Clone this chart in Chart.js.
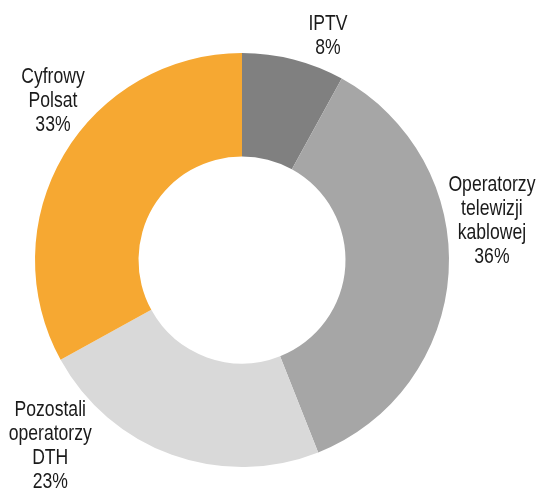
<!DOCTYPE html>
<html>
<head>
<meta charset="utf-8">
<script src="https://cdn.jsdelivr.net/npm/chart.js@4/dist/chart.umd.min.js"></script>
<style>
html,body{margin:0;padding:0;background:#fff;}
#wrap{width:540px;height:490px;position:relative;}
</style>
</head>
<body>
<div id="wrap"><canvas id="c" width="540" height="490"></canvas></div>
<script>
const categories = [["IPTV"], ["Operatorzy", "telewizji", "kablowej"], ["Pozostali", "operatorzy", "DTH"], ["Cyfrowy", "Polsat"]];
const shares = [8, 36, 23, 33];
const colors = ["#808080", "#a6a6a6", "#d9d9d9", "#f6a832"];
// label placement: radius factor relative to outer radius, angle offset (deg) from slice middle
const labelRadius = [1.159, 1.222, 1.29, 1.195];
const labelAngleOffset = [6.6, -12.47, 26.1, 9.56];

const labelPlugin = {
  id: 'outsideLabels',
  afterDatasetsDraw(chart) {
    const ctx = chart.ctx;
    const meta = chart.getDatasetMeta(0);
    const sx = 0.8; // condensed look (Arial Narrow-like)
    const lh = 24;
    meta.data.forEach((arc, i) => {
      const p = arc.getProps(['x', 'y', 'startAngle', 'endAngle', 'outerRadius'], true);
      const mid = (p.startAngle + p.endAngle) / 2 + labelAngleOffset[i] * Math.PI / 180;
      const r = p.outerRadius * labelRadius[i];
      const lx = p.x + r * Math.cos(mid);
      const ly = p.y + r * Math.sin(mid);
      const lines = categories[i].concat([shares[i] + '%']);
      const y0 = ly - (lines.length - 1) * lh / 2;
      ctx.save();
      ctx.font = '22px "Liberation Sans", Arial, sans-serif';
      ctx.fillStyle = '#1a1a1a';
      ctx.textAlign = 'center';
      ctx.textBaseline = 'middle';
      ctx.translate(lx, 0);
      ctx.scale(sx, 1);
      lines.forEach((t, k) => ctx.fillText(t, 0, y0 + k * lh));
      ctx.restore();
    });
  }
};

new Chart(document.getElementById('c'), {
  type: 'doughnut',
  data: {
    labels: categories.map(c => c.join(' ')),
    datasets: [{
      data: shares,
      backgroundColor: colors,
      borderWidth: 0,
      hoverOffset: 0
    }]
  },
  options: {
    responsive: false,
    animation: false,
    cutout: '50%',
    layout: { padding: { left: 35, right: 91, top: 53, bottom: 23 } },
    plugins: {
      legend: { display: false },
      tooltip: { enabled: false }
    },
    events: []
  },
  plugins: [labelPlugin]
});
</script>
</body>
</html>
